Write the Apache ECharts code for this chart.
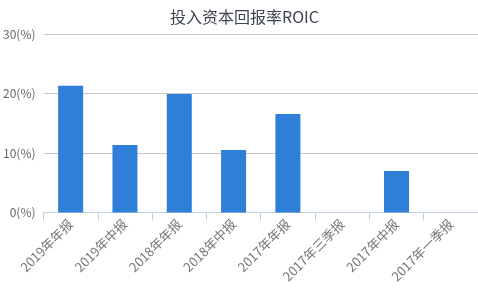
<!DOCTYPE html>
<html><head><meta charset="utf-8">
<script src="https://cdn.jsdelivr.net/npm/echarts@6/dist/echarts.min.js"></script>
<style>html,body{margin:0;padding:0;background:#fff}#c{width:478px;height:288px}</style>
</head><body><div id="c"></div>
<script>
const titleText = '投入资本回报率ROIC';
const categories = ['2019年年报','2019年中报','2018年年报','2018年中报','2017年年报','2017年三季报','2017年中报','2017年一季报'];
const roicValues = [21.3, 11.35, 19.9, 10.5, 16.55, null, 6.97, null];
const yTicks = [0, 10, 20, 30];

const chart = echarts.init(document.getElementById('c'));
chart.setOption({
  animation: false,
  title: {
    text: titleText, left: 165, top: 4,
    textStyle: {fontSize: 16, fontWeight: 'normal', color: '#3d4450', fontFamily: 'Noto Sans CJK SC'}
  },
  grid: {left: 43, right: -5, top: 34, bottom: 75.5, containLabel: false},
  xAxis: {
    type: 'category', data: categories,
    axisLine: {lineStyle: {color: '#c0d0e0'}},
    axisTick: {show: true, alignWithLabel: false, length: 8, lineStyle: {color: '#c0d0e0'}},
    axisLabel: {rotate: 45, fontSize: 13, color: '#777', interval: 0, margin: 9, fontFamily: 'Noto Sans CJK SC'}
  },
  yAxis: {
    type: 'value', min: yTicks[0], max: yTicks[yTicks.length-1], interval: 10,
    axisLine: {show: false}, axisTick: {show: false},
    splitLine: {lineStyle: {color: '#c8c8c8'}},
    axisLabel: {formatter: v => v + '(%)', fontSize: 12, color: '#666', margin: 8, fontFamily: 'Noto Sans CJK SC'}
  },
  series: [{
    type: 'bar', data: roicValues, barWidth: 25,
    itemStyle: {color: '#2f7ed8'}
  }]
});
</script></body></html>
